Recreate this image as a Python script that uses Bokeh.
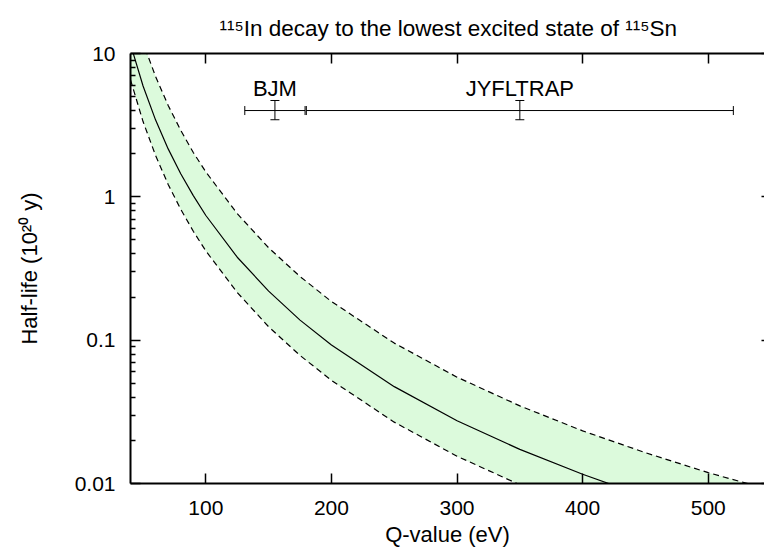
from bokeh.plotting import figure
from bokeh.models import (Range1d, LinearAxis, LogAxis, FixedTicker, LabelSet,
                          Whisker, ColumnDataSource, TeeHead, CustomJSTickFormatter)
from bokeh.core.properties import value
from bokeh.embed import file_html
from bokeh.resources import INLINE

# ---------------- data ----------------
q_values = [40, 50, 60, 70, 80, 90, 100, 125, 150, 175, 200, 250, 300, 350, 400, 450, 500, 550]
t_central = [11.6, 5.93, 3.43, 2.16, 1.45, 1.02, 0.741, 0.379, 0.220, 0.138, 0.0926,
             0.0474, 0.0274, 0.0173, 0.0116, 0.0081, 0.0059, 0.0045]
t_lower = [6.55, 3.35, 1.94, 1.22, 0.819, 0.575, 0.419, 0.215, 0.124, 0.0782, 0.0524,
           0.0268, 0.0155, 0.0098, 0.0066, 0.0046, 0.0034, 0.0025]
t_upper = [23.3, 11.9, 6.90, 4.34, 2.91, 2.04, 1.49, 0.763, 0.441, 0.278, 0.186,
           0.0954, 0.0552, 0.0348, 0.0233, 0.0164, 0.0119, 0.0090]

meas_names = ["BJM", "JYFLTRAP"]
meas_q = [155, 350]
meas_q_err = [24, 170]
meas_t = [4.0, 4.0]
meas_t_low = [3.45, 3.45]
meas_t_high = [4.7, 4.7]

x_ticks = [100, 200, 300, 400, 500]
y_ticks = [0.01, 0.1, 1, 10]
y_minor = [m * d for d in (0.01, 0.1, 1) for m in range(2, 10)]

title_text = "\u00b9\u00b9\u2075In decay to the lowest excited state of \u00b9\u00b9\u2075Sn"
x_label = "Q-value (eV)"
y_label = "Half-life (10\u00b2\u2070 y)"

FONT = "Liberation Sans"

# ---------------- figure ----------------
p = figure(width=764, height=554, output_backend="svg", toolbar_location=None,
           x_range=Range1d(40, 544.8), y_range=Range1d(0.01, 10),
           y_axis_type="log", x_axis_location=None, y_axis_location=None,
           min_border_left=130, min_border_right=0, min_border_top=53,
           min_border_bottom=71)
p.outline_line_color = None
p.background_fill_color = "white"
p.border_fill_color = "white"
for g in p.grid:
    g.visible = False

p.title.text = title_text
p.title.text_font = FONT
p.title.text_font_size = "22.5px"
p.title.text_font_style = "normal"
p.title.text_color = "black"
p.title.align = "left"
p.title.offset = 89
p.title.vertical_align = "top"
p.title.standoff = 22


def style_axis(ax, labels=True):
    ax.axis_line_width = 2
    ax.axis_line_color = "black"
    ax.major_tick_line_width = 1.5
    ax.minor_tick_line_width = 1.5
    ax.major_tick_out = 0
    ax.minor_tick_out = 0
    ax.major_label_text_font = FONT
    ax.major_label_text_font_style = "normal"
    ax.major_label_text_color = "black"
    ax.axis_label_text_font = FONT
    ax.axis_label_text_font_size = "22px"
    ax.axis_label_text_font_style = "normal"
    ax.axis_label_text_color = "black"
    if labels:
        ax.major_label_text_font_size = "21px"
    else:
        ax.major_label_text_font_size = "0px"
        ax.major_label_text_alpha = 0
        ax.major_label_standoff = 0


xt = FixedTicker(ticks=x_ticks, minor_ticks=[])
bottom = LinearAxis(ticker=xt, axis_label=x_label)
style_axis(bottom)
bottom.major_tick_in = 10
bottom.minor_tick_in = 0
bottom.major_label_standoff = 17
bottom.axis_label_standoff = 4
p.add_layout(bottom, "below")

top = LinearAxis(ticker=xt)
style_axis(top, labels=False)
top.major_tick_in = 10
top.minor_tick_in = 0
p.add_layout(top, "above")

yt = FixedTicker(ticks=y_ticks, minor_ticks=y_minor)
left = LogAxis(ticker=yt, formatter=CustomJSTickFormatter(code="return String(tick)"),
               axis_label=y_label)
style_axis(left)
left.major_tick_in = 10
left.minor_tick_in = 5
left.major_label_standoff = 15
left.axis_label_standoff = 30
p.add_layout(left, "left")

right = LogAxis(ticker=FixedTicker(ticks=y_ticks, minor_ticks=[]))
style_axis(right, labels=False)
right.axis_line_color = None
right.major_tick_in = 3
right.minor_tick_in = 0
p.add_layout(right, "right")

# ---------------- curves ----------------
src = ColumnDataSource(dict(q=q_values, c=t_central, lo=t_lower, hi=t_upper))
p.varea(x="q", y1="lo", y2="hi", source=src, fill_color="#dcfadc", fill_alpha=1.0)
p.line("q", "c", source=src, line_color="black", line_width=1.2)
p.line("q", "lo", source=src, line_color="black", line_width=1.2, line_dash="6 4")
p.line("q", "hi", source=src, line_color="black", line_width=1.2, line_dash="6 4")

# ---------------- measurements ----------------
msrc = ColumnDataSource(dict(
    name=meas_names, q=meas_q,
    qlo=[a - b for a, b in zip(meas_q, meas_q_err)],
    qhi=[a + b for a, b in zip(meas_q, meas_q_err)],
    t=meas_t, tlo=meas_t_low, thi=meas_t_high))

hw = Whisker(source=msrc, base="t", lower="qlo", upper="qhi", dimension="width",
             line_color="black", line_width=1,
             lower_head=TeeHead(size=9, line_width=1, line_color="black"),
             upper_head=TeeHead(size=9, line_width=1, line_color="black"))
vw = Whisker(source=msrc, base="q", lower="tlo", upper="thi", dimension="height",
             line_color="black", line_width=1,
             lower_head=TeeHead(size=9, line_width=1, line_color="black"),
             upper_head=TeeHead(size=9, line_width=1, line_color="black"))
p.add_layout(hw)
p.add_layout(vw)

p.add_layout(LabelSet(x="q", y="t", text="name", source=msrc, y_offset=15,
                      text_align="center", text_baseline="alphabetic",
                      text_font=value(FONT), text_font_size=value("22px"),
                      text_color="black"))

open("out.html", "w").write(file_html(p, INLINE))
